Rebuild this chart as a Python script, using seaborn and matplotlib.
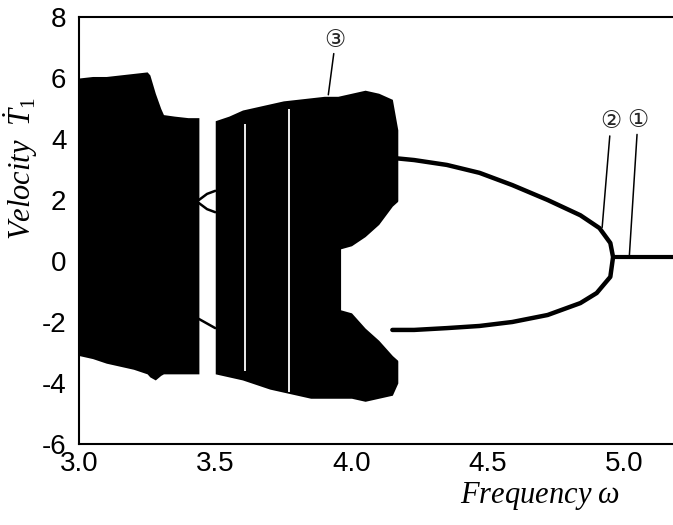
import numpy as np
import matplotlib
matplotlib.use("Agg")
import matplotlib.pyplot as plt
import seaborn as sns

# chaotic band, first block (frequency, upper / lower envelope of velocity)
freq_a = [3.00, 3.05, 3.10, 3.15, 3.20, 3.25, 3.26, 3.28, 3.30, 3.31, 3.35, 3.40, 3.44]
top_a = [6.0, 6.05, 6.05, 6.1, 6.15, 6.2, 6.1, 5.5, 5.0, 4.8, 4.75, 4.7, 4.7]
bot_a = [-3.1, -3.2, -3.35, -3.45, -3.55, -3.7, -3.8, -3.9, -3.75, -3.7, -3.7, -3.7, -3.7]

# chaotic band, second block
freq_b = [3.50, 3.55, 3.60, 3.65, 3.70, 3.75, 3.80, 3.85, 3.90, 3.95, 4.00, 4.05, 4.10, 4.15, 4.17]
top_b = [4.6, 4.75, 4.95, 5.05, 5.15, 5.25, 5.3, 5.35, 5.4, 5.4, 5.5, 5.6, 5.5, 5.3, 4.3]
bot_b = [-3.7, -3.8, -3.9, -4.05, -4.2, -4.3, -4.4, -4.5, -4.5, -4.5, -4.5, -4.6, -4.5, -4.4, -4.0]

# empty hole inside the second block
freq_hole = [3.96, 4.00, 4.05, 4.10, 4.15, 4.20]
hole_hi = [0.4, 0.5, 0.8, 1.2, 1.8, 2.2]
hole_lo = [-1.6, -1.7, -2.2, -2.6, -3.1, -3.5]

# thin periodic windows (white gaps) inside the second block
gap_freq = [3.61, 3.77]
gap_top = [4.5, 5.0]
gap_bot = [-3.6, -4.3]

# small periodic window between the blocks
win_freq = [3.44, 3.47, 3.50]
win_up1 = [2.0, 2.2, 2.3]
win_up2 = [1.9, 1.7, 1.6]
win_low = [-1.9, -2.05, -2.2]

# period-2 branch (upper then lower)
branch_freq = [4.15, 4.23, 4.35, 4.47, 4.59, 4.72, 4.84, 4.91, 4.95, 4.96,
               4.95, 4.90, 4.84, 4.72, 4.59, 4.47, 4.35, 4.23, 4.15]
branch_vel = [3.38, 3.31, 3.15, 2.89, 2.49, 2.0, 1.5, 1.08, 0.59, 0.13,
              -0.52, -1.05, -1.38, -1.77, -2.0, -2.13, -2.2, -2.26, -2.26]

# period-1 solution
fixed_freq = [4.96, 5.18]
fixed_vel = [0.13, 0.13]

# annotations: label, text position, line start, line end
marks = ["③", "②", "①"]
mark_xy = [(3.94, 7.25), (4.95, 4.58), (5.05, 4.62)]
mark_from = [(3.935, 6.8), (4.948, 4.1), (5.048, 4.15)]
mark_to = [(3.915, 5.45), (4.92, 1.1), (5.02, 0.2)]

sns.set_theme(style="white")
plt.rcParams["font.family"] = ["Liberation Sans", "DejaVu Sans", "Noto Sans CJK JP"]
plt.rcParams["axes.unicode_minus"] = False
plt.rcParams["mathtext.fontset"] = "custom"
plt.rcParams["mathtext.it"] = "Liberation Serif:italic"
plt.rcParams["mathtext.rm"] = "Liberation Serif"

fig = plt.figure(figsize=(6.73, 5.25), dpi=100)
ax = fig.add_axes([79 / 673, 1 - 444 / 525, 594 / 673, 427 / 525])

ax.fill_between(freq_a, bot_a, top_a, color="black", lw=0)
ax.fill_between(freq_b, bot_b, top_b, color="black", lw=0)
ax.fill_between(freq_hole, hole_lo, hole_hi, color="white", lw=0)
ax.vlines(gap_freq, gap_bot, gap_top, color="white", lw=1.3)

for w in [win_up1, win_up2, win_low]:
    sns.lineplot(x=win_freq, y=w, ax=ax, color="black", lw=1.8, sort=False, estimator=None)

sns.lineplot(x=branch_freq, y=branch_vel, ax=ax, color="black", lw=3.2, sort=False, estimator=None)
sns.lineplot(x=fixed_freq, y=fixed_vel, ax=ax, color="black", lw=3.0, sort=False, estimator=None)

for m, xy, p0, p1 in zip(marks, mark_xy, mark_from, mark_to):
    ax.text(xy[0], xy[1], m, ha="center", va="center", fontsize=17,
            family=["DejaVu Sans", "Noto Sans CJK JP"])
    ax.plot([p0[0], p1[0]], [p0[1], p1[1]], color="black", lw=1.1)

ax.set_xlim(3.0, 5.18)
ax.set_ylim(-6, 8)
ax.set_xticks([3.0, 3.5, 4.0, 4.5, 5.0])
ax.set_xticklabels(["3.0", "3.5", "4.0", "4.5", "5.0"])
ax.set_yticks([-6, -4, -2, 0, 2, 4, 6, 8])
ax.tick_params(axis="both", length=0, labelsize=20, colors="black")
ax.tick_params(axis="y", pad=9)
ax.tick_params(axis="x", pad=5)

for s in ["left", "top", "bottom"]:
    ax.spines[s].set_color("black")
    ax.spines[s].set_linewidth(1.5)
ax.spines["right"].set_visible(False)

ax.set_ylabel(r"$Velocity\ \ \dot{T}_{\mathit{1}}$", fontsize=22, color="black")
ax.set_xlabel(r"$Frequency\ \omega$", fontsize=22, color="black")
ax.yaxis.set_label_coords(-0.065, 0.645)
ax.xaxis.set_label_coords(0.776, -0.085)

fig.savefig("out.png", dpi=100)
